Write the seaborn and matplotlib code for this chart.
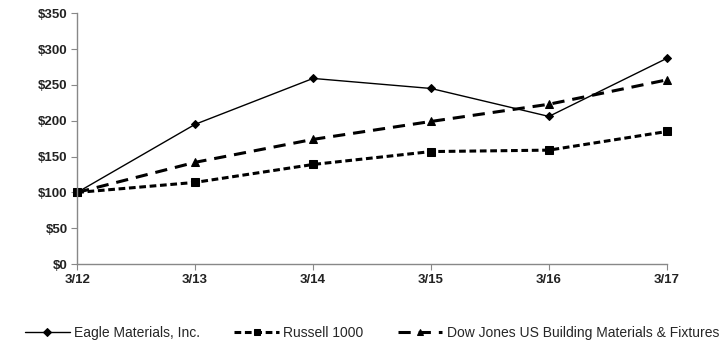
import matplotlib
matplotlib.use("Agg")
import matplotlib.pyplot as plt
import seaborn as sns
import pandas as pd

periods = ["3/12", "3/13", "3/14", "3/15", "3/16", "3/17"]
eagle = [100, 195, 259, 245, 206, 287]
russell = [100, 114, 139, 157, 159, 185]
dowjones = [100, 142, 174, 199, 223, 257]
series_names = ["Eagle Materials, Inc.", "Russell 1000", "Dow Jones US Building Materials & Fixtures"]
y_ticks = [0, 50, 100, 150, 200, 250, 300, 350]

sns.set_theme(style="white")
plt.rcParams["font.family"] = ["Liberation Sans", "DejaVu Sans"]

df = pd.DataFrame({
    "period": list(range(len(periods))) * 3,
    "value": eagle + russell + dowjones,
    "series": [series_names[0]] * 6 + [series_names[1]] * 6 + [series_names[2]] * 6,
})

fig = plt.figure(figsize=(7.28, 3.56), dpi=100)
ax = fig.add_axes([0.106, 0.258, 0.810, 0.705])

styles = {
    series_names[0]: dict(linestyle="-", linewidth=1.0, marker="D", markersize=4.5),
    series_names[1]: dict(linestyle=(0, (2.2, 1.2)), linewidth=2.2, marker="s", markersize=6),
    series_names[2]: dict(linestyle=(0, (4.0, 2.6)), linewidth=2.2, marker="^", markersize=5.5),
}
for name in series_names:
    sub = df[df["series"] == name]
    sns.lineplot(data=sub, x="period", y="value", ax=ax, color="black",
                 label=name, markeredgecolor="black", clip_on=False, **styles[name])

ax.set_xlim(0, len(periods) - 1)
ax.set_ylim(0, 350)
ax.set_xticks(range(len(periods)))
ax.set_xticklabels(periods)
ax.set_yticks(y_ticks)
ax.set_yticklabels([f"${v}" for v in y_ticks])
ax.set_xlabel("")
ax.set_ylabel("")
for lab in ax.get_xticklabels() + ax.get_yticklabels():
    lab.set_fontweight("bold")
    lab.set_fontsize(9.5)
    lab.set_color("#222222")
ax.tick_params(axis="both", which="both", length=4, width=0.8, color="#888888",
               direction="out", bottom=True, left=True, pad=3)
for s in ["top", "right"]:
    ax.spines[s].set_visible(False)
for s in ["left", "bottom"]:
    ax.spines[s].set_color("#888888")
    ax.spines[s].set_linewidth(1.0)

handles, labels = ax.get_legend_handles_labels()
ax.legend(handles, labels, loc="center", bbox_to_anchor=(0.50, -0.275),
          ncol=3, frameon=False, handlelength=3.2, columnspacing=2.5, markerscale=0.8,
          handletextpad=0.3, prop={"family": ["Liberation Sans Narrow", "Liberation Sans"], "size": 10})

fig.savefig("out.png", dpi=100, facecolor="white")
